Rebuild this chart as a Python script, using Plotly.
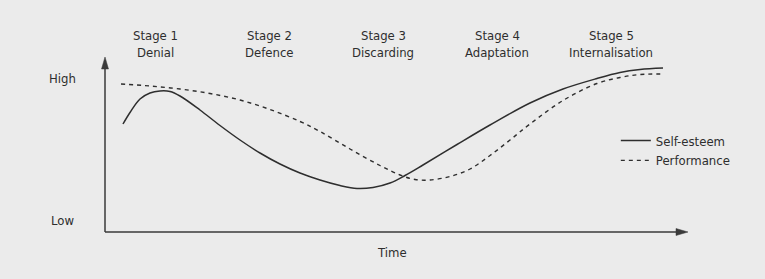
import plotly.graph_objects as go

# ---- data (time units along x, level units along y) ----
se_time = [18, 25, 35, 45, 55, 65, 75, 95, 115, 135, 155, 175, 195, 215, 235,
           252, 268, 285, 300, 318, 352, 385, 425, 458, 492, 515, 535, 558]
se_level = [108, 119.5, 133, 139, 141, 140.5, 136, 122, 106.5, 92, 79, 68, 59, 52, 46.5,
            43.5, 44.5, 49, 56.5, 67, 87.5, 107, 129, 143, 153.5, 159.5, 162.5, 164]

perf_time = [16, 45, 75, 105, 135, 165, 195, 215, 245, 275, 295, 310, 325, 345,
             365, 385, 405, 425, 458, 492, 515, 535, 558]
perf_level = [148, 146, 143, 138.5, 132, 122.5, 110.5, 100.5, 83, 66.5, 57, 52.5, 52, 55.5,
              63, 76.5, 92, 108, 131.5, 148.5, 154.5, 157.5, 158]

stage_nums = ["Stage 1", "Stage 2", "Stage 3", "Stage 4", "Stage 5"]
stage_names = ["Denial", "Defence", "Discarding", "Adaptation", "Internalisation"]
stage_centers = [50, 164, 278, 392, 506]

FONT = "DejaVu Sans Condensed, Liberation Sans Narrow, Arial Narrow, sans-serif"
FS = 13
INK = "#2e2e2e"
BG = "#ebebeb"

fig = go.Figure()
fig.add_trace(go.Scatter(x=se_time, y=se_level, mode="lines", name="Self-esteem",
                         line=dict(color=INK, width=1.5, shape="spline", smoothing=1.0)))
fig.add_trace(go.Scatter(x=perf_time, y=perf_level, mode="lines", name="Performance",
                         line=dict(color=INK, width=1.4, dash="4px,4px", shape="spline", smoothing=1.0)))

annotations = []
for c, n1, n2 in zip(stage_centers, stage_nums, stage_names):
    annotations.append(dict(x=c, y=197, text=n1, showarrow=False, xref="x", yref="y",
                            font=dict(size=FS, color=INK, family=FONT)))
    annotations.append(dict(x=c, y=180, text=n2, showarrow=False, xref="x", yref="y",
                            font=dict(size=FS, color=INK, family=FONT)))
annotations += [
    dict(x=-43, y=154, text="High", showarrow=False, font=dict(size=FS, color=INK, family=FONT)),
    dict(x=-43, y=12, text="Low", showarrow=False, font=dict(size=FS, color=INK, family=FONT)),
    dict(x=287, y=-20, text="Time", showarrow=False, font=dict(size=FS, color=INK, family=FONT)),
]

axis_col = "#3a3a3a"
shapes = [
    dict(type="line", x0=0, y0=0, x1=573, y1=0, line=dict(color=axis_col, width=1.5)),
    dict(type="line", x0=0, y0=0, x1=0, y1=165, line=dict(color=axis_col, width=1.5)),
    dict(type="path", path="M 571,3.5 L 583,0 L 571,-3.5 Z", fillcolor=axis_col,
         line=dict(color=axis_col, width=0.5)),
    dict(type="path", path="M -3.5,163 L 0,175 L 3.5,163 Z", fillcolor=axis_col,
         line=dict(color=axis_col, width=0.5)),
]

fig.update_layout(
    width=765, height=279,
    margin=dict(l=0, r=0, t=0, b=0),
    paper_bgcolor=BG, plot_bgcolor=BG,
    xaxis=dict(range=[-105, 660], visible=False, fixedrange=True),
    yaxis=dict(range=[-47, 232], visible=False, fixedrange=True),
    annotations=annotations,
    shapes=shapes,
    showlegend=True,
    legend=dict(x=0.805, xanchor="left", y=0.4606, yanchor="middle",
                bgcolor="rgba(0,0,0,0)", font=dict(size=FS, color=INK, family=FONT),
                tracegroupgap=0, itemwidth=30),
)

fig.write_html("out.html")
